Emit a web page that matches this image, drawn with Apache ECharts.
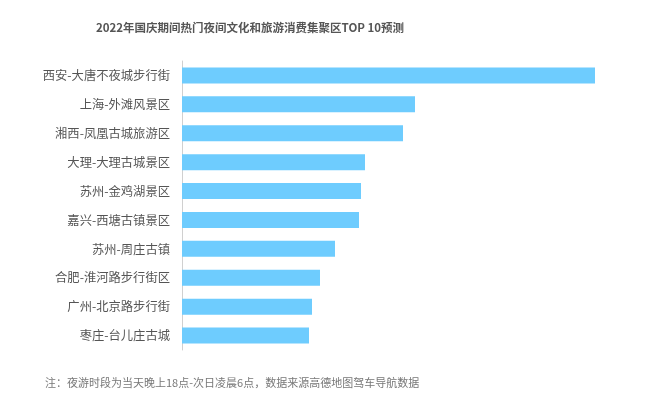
<!DOCTYPE html>
<html>
<head>
<meta charset="utf-8">
<script src="https://cdn.jsdelivr.net/npm/echarts@6/dist/echarts.min.js"></script>
<style>html,body{margin:0;padding:0;background:#fff}#c{width:657px;height:405px}</style>
</head>
<body>
<div id="c"></div>
<script>
var categories = ["西安-大唐不夜城步行街","上海-外滩风景区","湘西-凤凰古城旅游区","大理-大理古城景区","苏州-金鸡湖景区","嘉兴-西塘古镇景区","苏州-周庄古镇","合肥-淮河路步行街区","广州-北京路步行街","枣庄-台儿庄古城"];
var values = [413, 233, 221, 183, 179, 177, 153, 138, 130, 127];
var titleText = "2022年国庆期间热门夜间文化和旅游消费集聚区TOP 10预测";
var noteText = "注：夜游时段为当天晚上18点-次日凌晨6点，数据来源高德地图驾车导航数据";

var chart = echarts.init(document.getElementById('c'));
chart.setOption({
  animation: false,
  textStyle: {fontFamily: "Noto Sans CJK SC"},
  title: [{
    text: titleText,
    left: 245, top: 17, textAlign: 'center',
    textStyle: {fontSize: 11.5, fontWeight: 'bold', color: '#555', fontFamily: "Noto Sans CJK SC"}
  },{
    text: noteText,
    left: 40, top: 372,
    textStyle: {fontSize: 11, fontWeight: 'normal', color: '#777', fontFamily: "Noto Sans CJK SC"}
  }],
  grid: {left: 182, top: 61, width: 440, height: 289},
  xAxis: {type: 'value', min: 0, max: 440, show: false},
  yAxis: {
    type: 'category', data: categories, inverse: true,
    axisLine: {show: true, lineStyle: {color: '#d0d0d0', width: 1}},
    axisTick: {show: false},
    axisLabel: {fontSize: 12.3, color: '#555', margin: 12, fontFamily: "Noto Sans CJK SC"}
  },
  series: [{
    type: 'bar', data: values, barWidth: 16,
    itemStyle: {color: '#6ECCFE'}
  }]
});
</script>
</body>
</html>
